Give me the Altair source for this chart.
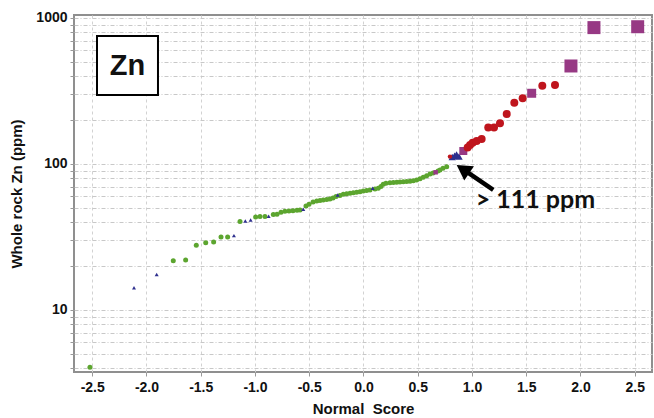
import altair as alt
import pandas as pd

# Normal-score plot of whole-rock Zn (ppm), split by symbol class.

# Background population (small green dots)
green_score = [-2.521, -1.753, -1.639, -1.541, -1.454, -1.381, -1.313, -1.252, -1.138,
               -0.994, -0.954, -0.908, -0.831, -0.797, -0.760, -0.724, -0.687, -0.650,
               -0.613, -0.585, -0.530, -0.502, -0.465, -0.431, -0.401, -0.371, -0.339,
               -0.309, -0.281, -0.253, -0.217, -0.186, -0.155, -0.124, -0.094, -0.063,
               -0.032, -0.002, 0.029, 0.060, 0.106, 0.136, 0.161, 0.182, 0.207, 0.244,
               0.275, 0.306, 0.336, 0.367, 0.398, 0.429, 0.459, 0.490, 0.521, 0.551,
               0.582, 0.613, 0.641, 0.687, 0.705, 0.733, 0.767]
green_zn = [4.05, 21.7, 22.0, 27.7, 28.9, 29.2, 31.6, 31.6, 40.3,
            43.4, 43.6, 43.6, 45.1, 45.2, 46.7, 47.4, 47.6, 47.9,
            48.2, 48.4, 51.5, 53.0, 54.9, 55.8, 56.3, 56.7, 57.1,
            57.6, 58.5, 59.9, 60.8, 62.0, 62.5, 63.0, 63.5, 64.0,
            64.6, 65.3, 65.8, 66.3, 67.4, 68.2, 70.2, 72.6, 73.8, 74.5,
            74.7, 75.0, 75.3, 75.5, 75.9, 76.2, 76.9, 77.7, 79.3, 81.1,
            83.2, 85.4, 86.8, 89.5, 91.0, 93.5, 95.9]

# Blue triangles
blue_score = [-2.115, -1.906, -1.194, -1.089, -1.040, -0.874, -0.555, -0.238, 0.085,
              0.818, 0.840, 0.858, 0.880]
blue_zn = [14.2, 17.5, 32.3, 40.7, 41.3, 43.9, 49.0, 61.4, 68.2,
           111.5, 114.0, 116.0, 112.5]
blue_size = [16, 16, 16, 16, 16, 16, 16, 16, 16, 55, 55, 55, 55]

# Red dots
red_score = [0.797, 0.960, 0.982, 1.006, 1.043, 1.089, 1.150, 1.203, 1.258,
             1.320, 1.390, 1.467, 1.648, 1.765]
red_zn = [112.3, 129.5, 134.9, 140.0, 143.8, 148.4, 178.0, 178.0, 190.0,
          220.0, 263.0, 282.0, 344.0, 348.0]
red_size = [20, 64, 64, 64, 64, 64, 64, 64, 64, 64, 64, 64, 64, 64]

# Magenta squares
mag_score = [0.665, 0.920, 1.550, 1.912, 2.124, 2.527]
mag_zn = [87.7, 122.7, 305.0, 469.0, 859.0, 871.0]
mag_size = [20, 64, 81, 169, 169, 169]

# Threshold annotation (arrow and label) and element box, in data units
arrow_tail = [1.196, 66.4]
arrow_head = [0.916, 92.1]
label_pos = [1.585, 50.2]
box_corners = [-2.456, -1.894, 297.0, 753.0]
box_label_pos = [-2.175, 469.0]

pts = pd.concat([
    pd.DataFrame({"score": green_score, "zn": green_zn, "size": 25, "grp": "g"}),
    pd.DataFrame({"score": blue_score, "zn": blue_zn, "size": blue_size, "grp": "b"}),
    pd.DataFrame({"score": red_score, "zn": red_zn, "size": red_size, "grp": "r"}),
    pd.DataFrame({"score": mag_score, "zn": mag_zn, "size": mag_size, "grp": "m"}),
], ignore_index=True)

FONT = "Liberation Sans"

x_ticks = [-2.5, -2.0, -1.5, -1.0, -0.5, 0.0, 0.5, 1.0, 1.5, 2.0, 2.5]
y_ticks = [m * 10 ** k for k in range(0, 3) for m in range(1, 10)] + [1000]
y_ticks = [v for v in y_ticks if v >= 4]

xscale = alt.Scale(domain=[-2.668, 2.659], nice=False, zero=False)
yscale = alt.Scale(type="log", domain=[3.76, 1048], nice=False)

xaxis = alt.Axis(values=x_ticks, title="Normal\u00a0 Score",
                 labelExpr="replace(format(datum.value, '.1f'), '\u2212', '-')",
                 grid=True, gridDash=[3, 3], gridColor="#d2d2d2",
                 domain=False, tickSize=4, tickColor="#999999",
                 labelFont=FONT, labelFontSize=14, labelFontWeight="bold", labelColor="#111111",
                 labelPadding=4, titleFont=FONT, titleFontSize=15, titleFontWeight="bold",
                 titleColor="#111111", titlePadding=7)
yaxis = alt.Axis(values=y_ticks, title="Whole rock Zn (ppm)",
                 labelExpr="datum.value == 10 || datum.value == 100 || datum.value == 1000 ? datum.value : ''",
                 labelOverlap=False, grid=True, gridDash=[4, 2, 1, 2], gridColor="#c8c8c8",
                 domain=False, tickSize=4, tickColor="#999999",
                 labelFont=FONT, labelFontSize=14, labelFontWeight="bold", labelColor="#111111",
                 labelPadding=3, titleFont=FONT, titleFontSize=15, titleFontWeight="bold",
                 titleColor="#111111", titlePadding=11)

X = alt.X("score:Q", scale=xscale, axis=xaxis)
Y = alt.Y("zn:Q", scale=yscale, axis=yaxis)
S = alt.Size("size:Q", scale=None, legend=None)

green = alt.Chart(pts).transform_filter("datum.grp == 'g'").mark_point(
    shape="circle", filled=True, opacity=1, color="#5ca52f").encode(x=X, y=Y, size=S)
blue = alt.Chart(pts).transform_filter("datum.grp == 'b'").mark_point(
    shape="triangle-up", filled=True, opacity=1, color="#2e2f8e").encode(x=X, y=Y, size=S)
red = alt.Chart(pts).transform_filter("datum.grp == 'r'").mark_point(
    shape="circle", filled=True, opacity=1, color="#bf151d").encode(x=X, y=Y, size=S)
mag = alt.Chart(pts).transform_filter("datum.grp == 'm'").mark_point(
    shape="square", filled=True, opacity=1, color="#973984").encode(x=X, y=Y, size=S)

arrow_df = pd.DataFrame({"score": [arrow_head[0]], "zn": [arrow_head[1]],
                         "score2": [arrow_tail[0]], "zn2": [arrow_tail[1]]})
arrow_line = alt.Chart(arrow_df).mark_rule(color="black", strokeWidth=4.5).encode(
    x=X, y=Y, x2="score2:Q", y2="zn2:Q")
arrow_tip = alt.Chart(arrow_df).mark_point(
    shape="triangle-up", filled=True, opacity=1, color="black", size=300, angle=304).encode(x=X, y=Y)

label = alt.Chart(pd.DataFrame({"score": [label_pos[0]], "zn": [label_pos[1]], "t": ["> 111 ppm"]})).mark_text(
    font="Lato", fontSize=25, fontWeight="bold", color="#111111", align="center", baseline="alphabetic"
).encode(x=X, y=Y, text="t:N")

box_df = pd.DataFrame({"score": [box_corners[0]], "score2": [box_corners[1]],
                       "zn": [box_corners[2]], "zn2": [box_corners[3]]})
box = alt.Chart(box_df).mark_rect(fill="white", stroke="black", strokeWidth=2).encode(
    x=X, y=Y, x2="score2:Q", y2="zn2:Q")
box_text = alt.Chart(pd.DataFrame({"score": [box_label_pos[0]], "zn": [box_label_pos[1]], "t": ["Zn"]})).mark_text(
    font=FONT, fontSize=29, fontWeight="bold", color="#111111", align="center", baseline="middle"
).encode(x=X, y=Y, text="t:N")

chart = alt.layer(green, blue, mag, red, arrow_line, arrow_tip, label, box, box_text).properties(
    width=578, height=357,
    autosize=alt.AutoSizeParams(type="none"),
    padding={"left": 74, "top": 15, "right": 2, "bottom": 46},
    background="white",
).configure_view(stroke="#8f8f8f", strokeWidth=2)

chart.save("out.html", embed_options={"renderer": "svg", "actions": False})
